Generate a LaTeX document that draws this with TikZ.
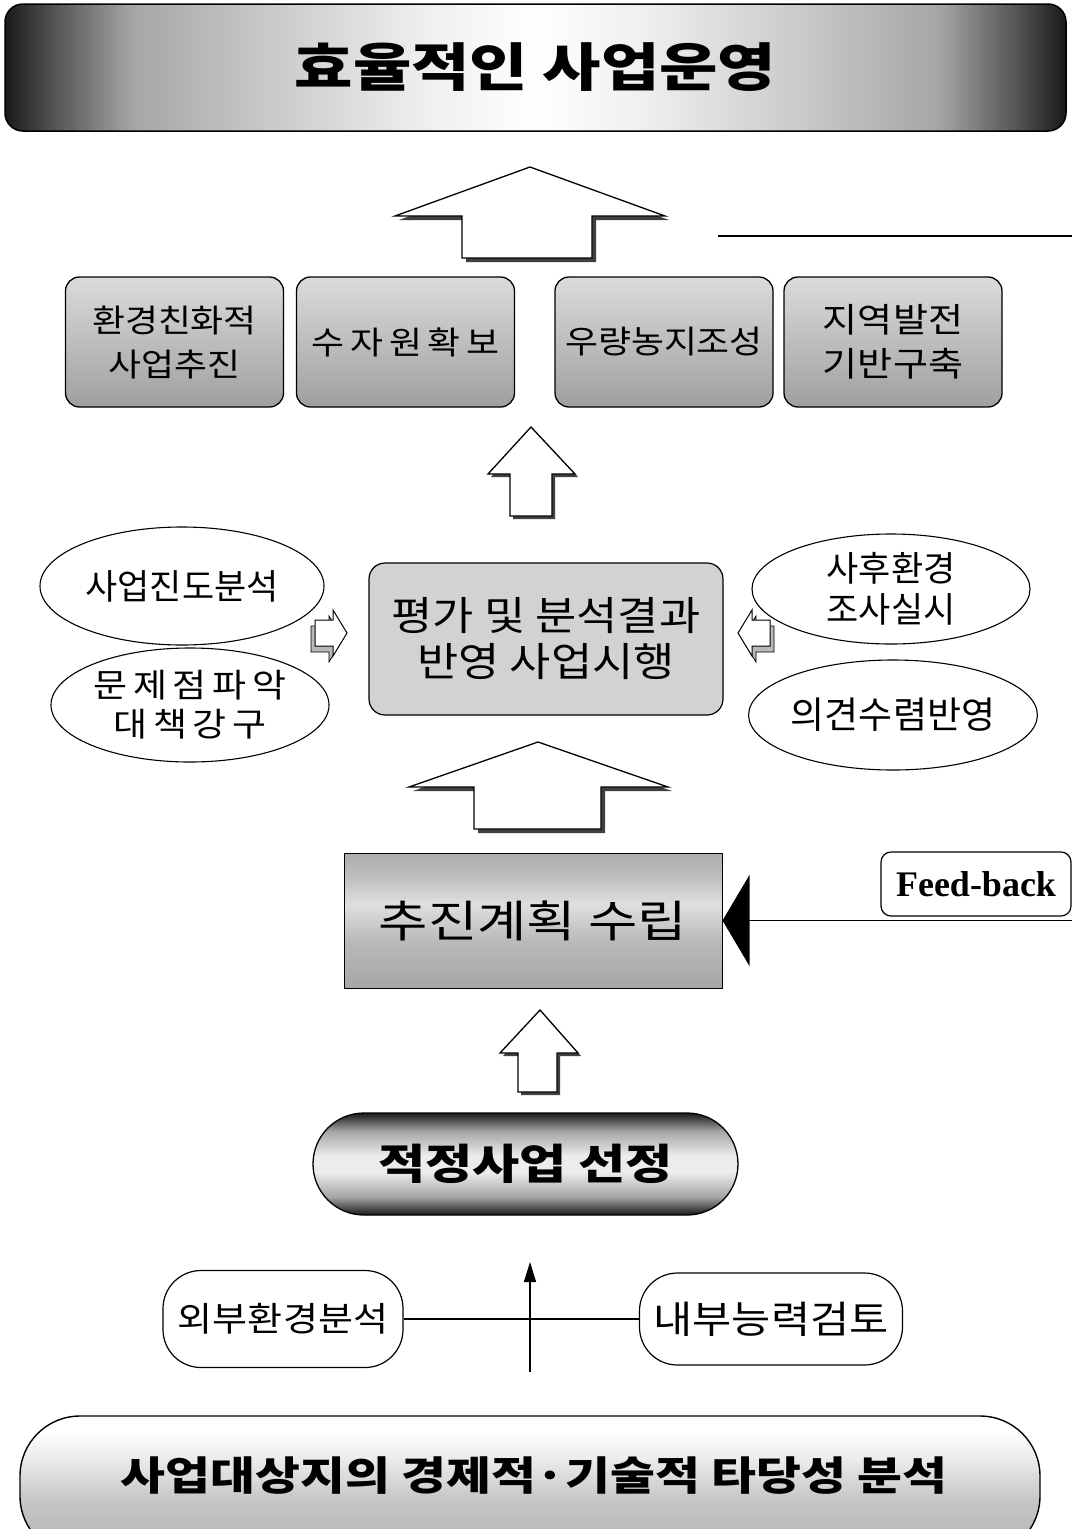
\documentclass[tikz,border=0pt]{standalone}
\usepackage{fontspec}
\setmainfont{Liberation Serif}
\newfontfamily\kr{Noto Sans CJK KR}
\newfontfamily\krmid{Noto Sans CJK KR}[FakeStretch=1.12]
\newfontfamily\krspaced{Noto Sans CJK KR}[FakeStretch=1.12, LetterSpace=18]
\newfontfamily\krwide{Noto Sans CJK KR}[FakeStretch=1.22]
\usetikzlibrary{arrows.meta,shapes.geometric}
\pgfdeclarehorizontalshading{titleshade}{100bp}{color(0bp)=(black!90); color(25bp)=(black!90); color(27bp)=(black!70); color(31bp)=(gray!70); color(38bp)=(gray!40); color(45bp)=(gray!12); color(50bp)=(white); color(55bp)=(gray!12); color(62bp)=(gray!40); color(69bp)=(gray!70); color(73bp)=(black!70); color(75bp)=(black!90); color(100bp)=(black!90)}
\pgfdeclareverticalshading{pillshade}{100bp}{color(0bp)=(black!90); color(25bp)=(black!90); color(34bp)=(gray!70); color(46bp)=(gray!15); color(54bp)=(gray!15); color(66bp)=(gray!70); color(75bp)=(black!90); color(100bp)=(black!90)}
\pgfdeclareverticalshading{planshade}{100bp}{color(0bp)=(gray!70); color(25bp)=(gray!70); color(42bp)=(gray!55); color(56bp)=(gray!25); color(66bp)=(gray!50); color(75bp)=(gray!65); color(100bp)=(gray!65)}
\pgfdeclareverticalshading{baseshade}{100bp}{color(0bp)=(gray!60); color(25bp)=(gray!60); color(45bp)=(gray!45); color(60bp)=(gray!15); color(70bp)=(white); color(100bp)=(white)}
\begin{document}
\begin{tikzpicture}[x=1pt,y=-1pt,
  every node/.style={inner sep=0pt},
  kbase/.style={font=\kr, align=center, text=black},
  outcome/.style={kbase, draw=black, line width=1.3pt, rounded corners=14pt, minimum width=218pt, minimum height=130pt, top color=gray!28, bottom color=gray!75, font=\krmid\fontsize{32}{44}\selectfont},
  oval/.style={kbase, draw=black, line width=1.1pt, ellipse, fill=white, font=\kr\fontsize{35}{41}\selectfont},
  roundbox/.style={kbase, draw=black, line width=1.2pt, rounded corners=38pt, fill=white, font=\krmid\fontsize{34}{42}\selectfont},
  blockarrow/.style={draw=black, line width=1.3pt, fill=white, line join=miter},
  blockshadow/.style={fill=black!75},
  cubeshadow/.style={draw=black, line width=0.8pt, fill=gray!55},
  thinline/.style={draw=black, line width=1.1pt},
]
\useasboundingbox (0,0) rectangle (1072,1529);
\fill[white] (0,0) rectangle (1072,1529);

% ---------- title banner
\node[kbase, draw=black, line width=1.5pt, rounded corners=18pt, shade, shading=titleshade,
      minimum width=1061pt, minimum height=127pt, font=\krwide\bfseries\fontsize{52}{60}\selectfont]
      (title) at (535.5,67.5) {효율적인 사업운영};

% ---------- big arrow 1
\path[blockshadow, shift={(4,4)}] (462,258) -- (462,216) -- (395,216) -- (530,167) -- (665,216) -- (592,216) -- (592,258) -- cycle;
\path[blockarrow] (462,258) -- (462,216) -- (395,216) -- (530,167) -- (665,216) -- (592,216) -- (592,258) -- cycle;

% feedback top line
\coordinate (fbTopL) at (718,236);
\coordinate (fbTopR) at (1072,236);
\draw[thinline] (fbTopL) -- (fbTopR);

% ---------- outcome boxes
\node[outcome] (o1) at (174.5,342) {환경친화적\\사업추진};
\node[outcome, font=\krspaced\fontsize{32}{44}\selectfont] (o2) at (405.5,342) {수자원확보};
\node[outcome] (o3) at (664,342) {우량농지조성};
\node[outcome, font=\krmid\fontsize{34}{44}\selectfont] (o4) at (893,342) {지역발전\\기반구축};

% ---------- arrow 2
\path[blockshadow, shift={(3,3)}] (510,516) -- (510,474) -- (488,474) -- (531,427) -- (575,474) -- (552,474) -- (552,516) -- cycle;
\path[blockarrow] (510,516) -- (510,474) -- (488,474) -- (531,427) -- (575,474) -- (552,474) -- (552,516) -- cycle;

% ---------- evaluation box and ovals
\node[kbase, draw=black, line width=1.2pt, rounded corners=16pt, fill=gray!35,
      minimum width=354pt, minimum height=152pt, font=\krmid\fontsize{40}{46}\selectfont]
      (eval) at (546,639) {평가 및 분석결과\\반영 사업시행};

\node[oval, minimum width=284pt, minimum height=118pt] (e1) at (182,586) {사업진도분석};
\node[oval, minimum width=278pt, minimum height=114pt, font=\krspaced\fontsize{33}{39}\selectfont] (e2) at (190,705) {문제점파악\\대책강구};
\node[oval, minimum width=278pt, minimum height=110pt] (e3) at (891,589) {사후환경\\조사실시};
\node[oval, minimum width=280pt, minimum height=110pt, font=\kr\fontsize{37}{41}\selectfont] (e4) at (893,715) {의견수렴반영};

% small 3D arrows
\path[cubeshadow, shift={(-4,6)}] (315,620) -- (333,620) -- (333,610) -- (347,633) -- (333,656) -- (333,646) -- (315,646) -- cycle;
\path[blockarrow, line width=1pt] (315,620) -- (333,620) -- (333,610) -- (347,633) -- (333,656) -- (333,646) -- (315,646) -- cycle;
\path[cubeshadow, shift={(4,6)}] (770,620) -- (752,620) -- (752,610) -- (738,633) -- (752,656) -- (752,646) -- (770,646) -- cycle;
\path[blockarrow, line width=1pt] (770,620) -- (752,620) -- (752,610) -- (738,633) -- (752,656) -- (752,646) -- (770,646) -- cycle;

% ---------- arrow 3
\path[blockshadow, shift={(4,4)}] (474,829) -- (474,787) -- (409,787) -- (538,742) -- (668,787) -- (601,787) -- (601,829) -- cycle;
\path[blockarrow] (474,829) -- (474,787) -- (409,787) -- (538,742) -- (668,787) -- (601,787) -- (601,829) -- cycle;

% ---------- plan box and feedback
\node[kbase, draw=black, line width=1pt, shade, shading=planshade,
      minimum width=378pt, minimum height=135pt, font=\krwide\fontsize{44}{50}\selectfont]
      (plan) at (533,920.5) {추진계획 수립};
\node[draw=black, line width=1.2pt, rounded corners=10pt, fill=white,
      minimum width=190pt, minimum height=64pt, font=\bfseries\fontsize{36}{40}\selectfont]
      (fb) at (976,884) {Feed-back};
\coordinate (fbLowR) at (1072,920.5);
\draw[thinline, -{Triangle[length=27pt,width=91pt]}] (fbLowR) -- (plan);

% ---------- arrow 4
\path[blockshadow, shift={(3,3)}] (518,1092) -- (518,1053) -- (500,1053) -- (540,1010) -- (578,1053) -- (557,1053) -- (557,1092) -- cycle;
\path[blockarrow] (518,1092) -- (518,1053) -- (500,1053) -- (540,1010) -- (578,1053) -- (557,1053) -- (557,1092) -- cycle;

% ---------- selection pill
\node[kbase, draw=black, line width=1.3pt, rounded corners=51pt, shade, shading=pillshade,
      minimum width=425pt, minimum height=102pt, font=\krwide\bfseries\fontsize{42}{50}\selectfont]
      (sel) at (525.5,1164) {적정사업 선정};

% ---------- analyses
\node[roundbox, minimum width=240pt, minimum height=97pt] (ext) at (283,1319) {외부환경분석};
\node[roundbox, minimum width=263pt, minimum height=92pt, font=\krmid\fontsize{38}{44}\selectfont] (int) at (771,1319) {내부능력검토};
\draw[thinline] (ext) -- (int);
\coordinate (upS) at (530,1372);
\coordinate (upE) at (530,1262);
\draw[thinline, -{Triangle[length=20pt,width=12pt]}] (upS) -- (upE);

% ---------- base pill
\begin{scope}
\clip (0,0) rectangle (1072,1529);
\node[draw=black, line width=1.4pt, rounded corners=60pt, shade, shading=baseshade,
      minimum width=1020pt, minimum height=140pt] (base) at (530,1486) {};
\end{scope}
\node[kbase, font=\krwide\bfseries\fontsize{40}{46}\selectfont] (basetext) at (534,1476) {사업대상지의 경제적·기술적 타당성 분석};
\end{tikzpicture}
\end{document}
